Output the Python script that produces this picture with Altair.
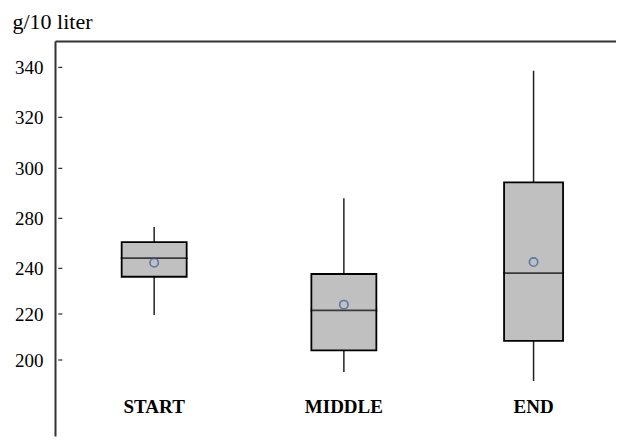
import altair as alt
import pandas as pd

categories = ["START", "MIDDLE", "END"]
position = [0, 1, 2]
whisker_low = [219.6, 194.8, 190.9]
q1 = [236.3, 204.2, 208.3]
median = [248.2, 221.6, 237.9]
q3 = [261.0, 237.5, 294.4]
whisker_high = [273.0, 288.0, 338.6]
mean = [244.5, 224.1, 245.0]
box_width = [65, 65, 59]
tick_values = [200, 220, 240, 280, 300, 320, 340]

# piecewise axis as drawn in the original
y_domain = [167, 200, 220, 240, 280, 300, 320, 340, 350.5]
y_range = [395, 319, 273, 227.3, 177.3, 127.3, 76.3, 26.3, 0]

df = pd.DataFrame({
    "cat": categories, "pos": position, "lo": whisker_low, "q1": q1,
    "med": median, "q3": q3, "hi": whisker_high, "mean": mean,
    "w": box_width, "mw": [w + 2 for w in box_width],
})
ticks_df = pd.DataFrame({"v": tick_values})

FONT = "Liberation Serif"
W, H = 561, 398

xscale = alt.Scale(domain=[-0.4964, 2.4082], nice=False, zero=False)
yscale = alt.Scale(type="linear", domain=y_domain, range=y_range, nice=False, zero=False)

x_enc = alt.X("pos:Q", scale=xscale,
              axis=alt.Axis(orient="top", labels=False, ticks=False, grid=False, title=None,
                            domainColor="#333333", domainWidth=2))
y_axis = alt.Axis(values=tick_values, ticks=False, grid=False, labelPadding=12,
                  labelFont=FONT, labelFontSize=19, labelColor="black",
                  domainColor="#333333", domainWidth=2,
                  title="g/10 liter", titleAngle=0, titleX=-43, titleY=-13,
                  titleAlign="left", titleBaseline="alphabetic", titleFont=FONT,
                  titleFontSize=22, titleFontWeight="normal", titleColor="black")

base = alt.Chart(df)

whisk = base.mark_rule(color="#222222", strokeWidth=1.5).encode(
    x=x_enc,
    y=alt.Y("lo:Q", scale=yscale, axis=y_axis),
    y2="hi:Q",
)
box = base.mark_bar(fill="#c0c0c0", stroke="black", strokeWidth=1.8).encode(
    x=alt.X("pos:Q", scale=xscale),
    y=alt.Y("q1:Q", scale=yscale),
    y2="q3:Q",
    size=alt.Size("w:Q", scale=None, legend=None),
)
med = base.mark_tick(orient="horizontal", color="black", thickness=1.8).encode(
    x=alt.X("pos:Q", scale=xscale),
    y=alt.Y("med:Q", scale=yscale),
    size=alt.Size("mw:Q", scale=None, legend=None),
)
mn = base.mark_point(shape="circle", filled=False, color="#33599a", strokeWidth=1.6, size=70).encode(
    x=alt.X("pos:Q", scale=xscale),
    y=alt.Y("mean:Q", scale=yscale),
)
labels = base.mark_text(font=FONT, fontSize=19, fontWeight="bold", color="black",
                        baseline="middle", align="center").encode(
    x=alt.X("pos:Q", scale=xscale),
    y=alt.value(366),
    text="cat:N",
)
yticks = alt.Chart(ticks_df).mark_rule(color="black", strokeWidth=1).encode(
    x=alt.value(3.3), x2=alt.value(7.3),
    y=alt.Y("v:Q", scale=yscale),
)

chart = alt.layer(whisk, box, med, mn, labels, yticks).properties(
    width=W, height=H,
    padding={"left": 4, "top": 2, "right": 0, "bottom": 0},
    background="white",
).configure_view(stroke=None).configure_axis(
    labelFont=FONT, titleFont=FONT
).configure_text(font=FONT)

chart.save("out.html", embed_options={"renderer": "svg", "actions": False})
